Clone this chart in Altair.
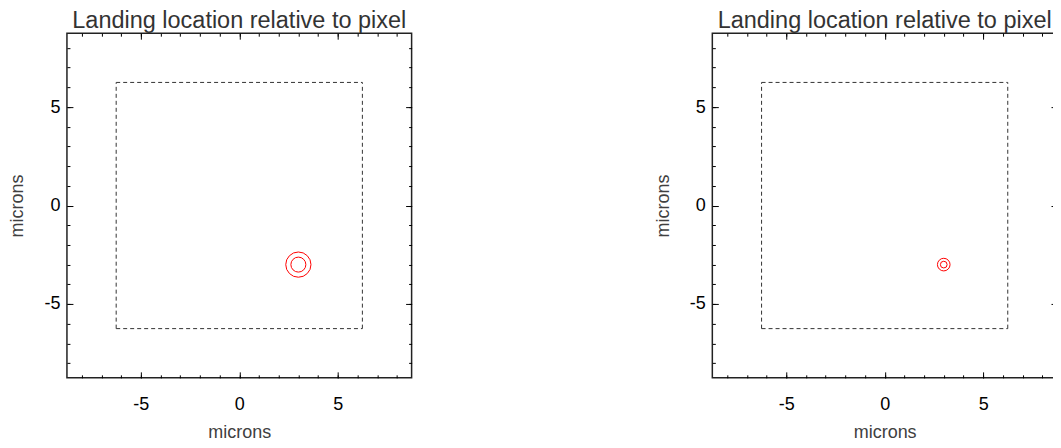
import altair as alt
import pandas as pd

# ---- data ----
panel_titles = ["Landing location relative to pixel", "Landing location relative to pixel"]
pixel_half = 6.25                      # half-width of the pixel (dashed square), microns
axis_limit = 8.75                      # axis range +/- microns
landing_x = [3.0, 3.0]                 # landing centre per panel
landing_y = [-3.0, -3.0]
outer_radius = [0.64, 0.32]            # microns, per panel
inner_radius = [0.38, 0.17]
major_ticks = [-5, 0, 5]
minor_ticks = [-8, -7, -6, -5, -4, -3, -2, -1, 0, 1, 2, 3, 4, 5, 6, 7, 8]

PLOT = 345
FONT = "Liberation Sans"
px_per_unit = PLOT / (2 * axis_limit)

xs = alt.Scale(domain=[-axis_limit, axis_limit], nice=False, zero=False)
ys = alt.Scale(domain=[-axis_limit, axis_limit], nice=False, zero=False)
size_scale = alt.Scale(type="pow", exponent=2, domain=[0, 1],
                       range=[0, (2 * px_per_unit) ** 2], zero=True)

label_expr = "datum.value < 0 ? '-' + abs(datum.value) : '' + datum.value"


def major_axis(orient, labels, title=None, label_pad=18, title_pad=9):
    kw = dict(orient=orient, values=major_ticks, tickSize=6, offset=-6,
              domain=False, grid=False, tickColor="black", tickWidth=1)
    if labels:
        kw.update(labels=True, labelFontSize=18, labelColor="black", labelFont=FONT,
                  labelPadding=label_pad, labelExpr=label_expr)
    else:
        kw.update(labels=False)
    if title:
        kw.update(title=title, titleFontSize=18, titleColor="#404040", titleFont=FONT,
                  titleFontWeight="normal", titlePadding=title_pad)
    else:
        kw.update(title=None)
    return alt.Axis(**kw)


def minor_axis(orient):
    return alt.Axis(orient=orient, values=minor_ticks, tickSize=3, offset=-3,
                    domain=False, grid=False, labels=False, title=None,
                    tickColor="black", tickWidth=1)


def panel(i):
    h_edges = pd.DataFrame({"x": [-pixel_half, -pixel_half], "x2": [pixel_half, pixel_half],
                            "y": [pixel_half, -pixel_half]})
    v_edges = pd.DataFrame({"y": [-pixel_half, -pixel_half], "y2": [pixel_half, pixel_half],
                            "x": [-pixel_half, pixel_half]})
    outer = pd.DataFrame({"x": [landing_x[i]], "y": [landing_y[i]], "r": [outer_radius[i]]})
    inner = pd.DataFrame({"x": [landing_x[i]], "y": [landing_y[i]], "r": [inner_radius[i]]})

    dash = dict(color="#333333", strokeDash=[4, 3], strokeWidth=1)

    l1 = alt.Chart(h_edges).mark_rule(**dash).encode(
        x=alt.X("x:Q", scale=xs, axis=major_axis("bottom", True, "microns", 18, 10)),
        x2="x2:Q",
        y=alt.Y("y:Q", scale=ys, axis=major_axis("left", True, "microns", 7, 17)),
    )
    l2 = alt.Chart(v_edges).mark_rule(**dash).encode(
        x=alt.X("x:Q", scale=xs, axis=minor_axis("bottom")),
        y=alt.Y("y:Q", scale=ys, axis=minor_axis("left")),
        y2="y2:Q",
    )
    circ = dict(shape="circle", filled=False, color="red", strokeWidth=1, opacity=1)
    l3 = alt.Chart(outer).mark_point(**circ).encode(
        x=alt.X("x:Q", scale=xs, axis=major_axis("top", False)),
        y=alt.Y("y:Q", scale=ys, axis=major_axis("right", False)),
        size=alt.Size("r:Q", scale=size_scale, legend=None),
    )
    l4 = alt.Chart(inner).mark_point(**circ).encode(
        x=alt.X("x:Q", scale=xs, axis=minor_axis("top")),
        y=alt.Y("y:Q", scale=ys, axis=minor_axis("right")),
        size=alt.Size("r:Q", scale=size_scale, legend=None),
    )
    return alt.layer(l1, l2, l3, l4).resolve_axis(
        x="independent", y="independent"
    ).properties(
        width=PLOT, height=PLOT,
        title=alt.TitleParams(panel_titles[i], fontSize=23.5, font=FONT, color="#333333",
                              fontWeight="normal", anchor="middle", offset=0),
    )


chart = alt.hconcat(panel(0), panel(1), spacing=240).configure_view(
    stroke="#222222", strokeWidth=1.5
).properties(
    padding={"left": 0, "top": 0, "right": -6, "bottom": 0},
    background="white",
)

chart.save("out.html", embed_options={"renderer": "svg", "actions": False})
